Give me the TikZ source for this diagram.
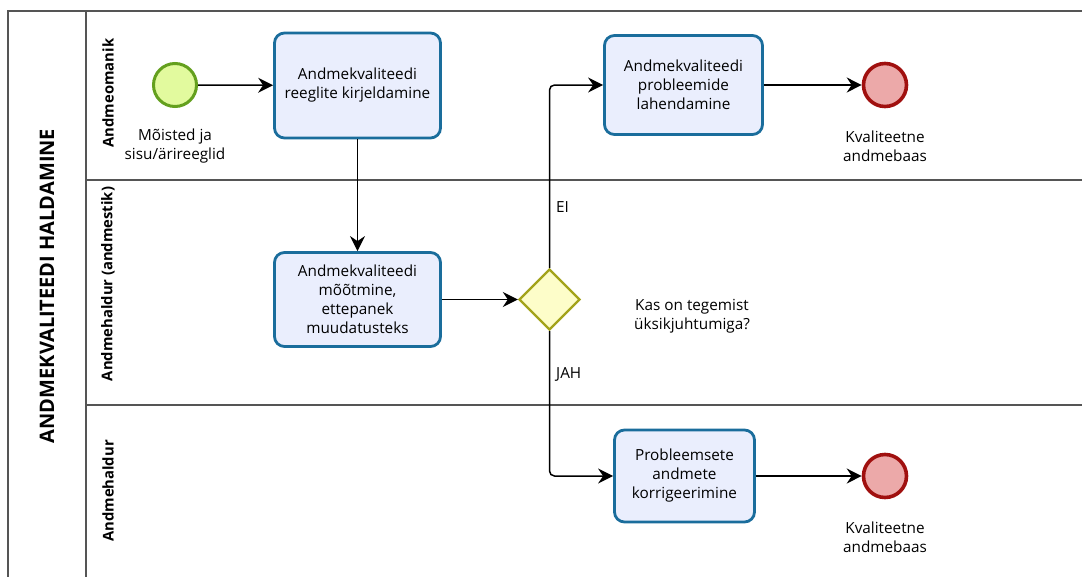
\documentclass[tikz,border=0pt]{standalone}
\usepackage{fontspec}
\setmainfont{Open Sans}
\usetikzlibrary{arrows.meta,shapes.geometric}
\definecolor{taskline}{HTML}{1A6D9C}
\definecolor{taskfill}{HTML}{EAEEFD}
\definecolor{startline}{HTML}{64A01E}
\definecolor{startfill}{HTML}{E2FA9E}
\definecolor{endline}{HTML}{A0100F}
\definecolor{endfill}{HTML}{ECA9A9}
\definecolor{gateline}{HTML}{A3A31B}
\definecolor{gatefill}{HTML}{FDFDC9}
\definecolor{laneline}{HTML}{555555}
\tikzset{
  lane/.style={draw=laneline, line width=1.6pt},
  task/.style={draw=taskline, fill=taskfill, line width=2.8pt, rounded corners=10pt,
    align=center, font=\fontsize{15.3}{19}\selectfont, inner sep=0pt},
  startev/.style={circle, draw=startline, fill=startfill, line width=3pt, minimum size=43pt, inner sep=0pt},
  endev/.style={circle, draw=endline, fill=endfill, line width=3.6pt, minimum size=43pt, inner sep=0pt},
  gate/.style={diamond, draw=gateline, fill=gatefill, line width=2.4pt, minimum size=61pt, inner sep=0pt, aspect=1},
  lbl/.style={align=center, font=\fontsize{15.3}{19}\selectfont, inner sep=0pt},
  lanelbl/.style={rotate=90, font=\bfseries\fontsize{14.8}{17}\selectfont, inner sep=0pt},
  flow/.style={draw=black, line width=1.5pt, -{Stealth[length=15pt,width=15pt,inset=5pt]}, rounded corners=5pt},
}
\begin{document}
\begin{tikzpicture}[x=1pt,y=-1pt]
\useasboundingbox (0,0) rectangle (1082,576);
\clip (0,0) rectangle (1082,576);
\fill[white] (0,0) rectangle (1082,576);

% pool and lanes
\draw[lane] (1090,11) -- (8,11) -- (8,590);
\draw[lane] (86,11) -- (86,590);
\draw[lane] (86,180) -- (1090,180);
\draw[lane] (86,405) -- (1090,405);

\node[rotate=90, font=\bfseries\fontsize{20}{24}\selectfont, inner sep=0pt] (pool) at (47,286) {ANDMEKVALITEEDI HALDAMINE};
\node[lanelbl] (l1) at (108,93) {Andmeomanik};
\node[lanelbl] (l2) at (108,284) {Andmehaldur (andmestik)};
\node[lanelbl] (l3) at (108,491) {Andmehaldur};

% flow elements
\node[startev] (start) at (175,85) {};
\node[lbl] (startl) at (175,146) {Mõisted ja\\sisu/ärireeglid};

\node[task, minimum width=166pt, minimum height=105pt] (t1) at (357.5,85.5) {Andmekvaliteedi\\reeglite kirjeldamine};
\node[task, minimum width=166pt, minimum height=94pt] (t2) at (357.5,299.5) {Andmekvaliteedi\\mõõtmine,\\ettepanek\\muudatusteks};
\node[gate] (gw) at (549.5,299.5) {};
\node[lbl] (q) at (692,316) {Kas on tegemist\\üksikjuhtumiga?};

\node[task, minimum width=158pt, minimum height=99pt] (t3) at (683.5,85) {Andmekvaliteedi\\probleemide\\lahendamine};
\node[endev] (e1) at (885,85) {};
\node[lbl] (e1l) at (885,146) {Kvaliteetne\\andmebaas};

\node[task, minimum width=140pt, minimum height=92pt] (t4) at (684.5,476) {Probleemsete\\andmete\\korrigeerimine};
\node[endev] (e2) at (885,476) {};
\node[lbl] (e2l) at (885,537) {Kvaliteetne\\andmebaas};

% sequence flows
\draw[flow] (start) -- (t1);
\draw[flow] (t1) -- (t2);
\draw[flow] (t2) -- (gw);
\draw[flow] (gw.north) |- (t3.west);
\draw[flow] (gw.south) |- (t4.west);
\draw[flow] (t3) -- (e1);
\draw[flow] (t4) -- (e2);

% gateway outcome labels
\node[lbl, anchor=west] (ei) at (556,207) {EI};
\node[lbl, anchor=west] (jah) at (556,374) {JAH};
\end{tikzpicture}
\end{document}
